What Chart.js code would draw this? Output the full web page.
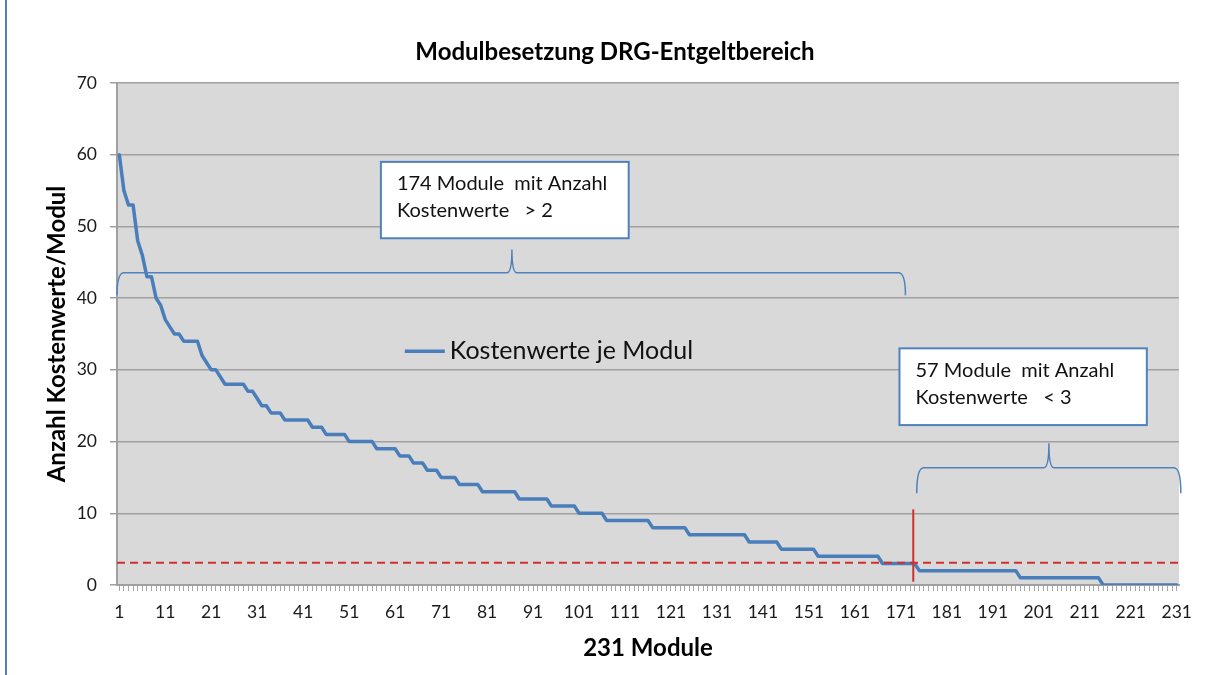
<!DOCTYPE html>
<html>
<head>
<meta charset="utf-8">
<title>Modulbesetzung DRG-Entgeltbereich</title>
<script src="https://cdn.jsdelivr.net/npm/chart.js@4.4.0/dist/chart.umd.min.js"></script>
<style>
  html, body { margin: 0; padding: 0; background: #fff; }
  #wrap { position: relative; width: 1217px; height: 675px; }
  #frame { position: absolute; left: 5px; top: 0; width: 2px; height: 675px; background: #4f81bd; }
</style>
</head>
<body>
<div id="wrap">
  <canvas id="chart" width="1217" height="675"></canvas>
  <div id="frame"></div>
</div>
<script>
// categories: module 1..231
const modules = Array.from({length: 231}, (_, i) => String(i + 1));
const tickLabels = ['1','11','21','31','41','51','61','71','81','91','101','111',
                    '121','131','141','151','161','171','181','191','201','211','221','231'];
const yTicks = [0, 10, 20, 30, 40, 50, 60, 70];

// Anzahl Kostenwerte je Modul
const kostenwerte = [
  60,55,53,53,48,46,43,43,40,39,
  37,36,35,35,34,34,34,34,32,31,
  30,30,29,28,28,28,28,28,27,27,
  26,25,25,24,24,24,23,23,23,23,
  23,23,22,22,22,21,21,21,21,21,
  20,20,20,20,20,20,19,19,19,19,
  19,18,18,18,17,17,17,16,16,16,
  15,15,15,15,14,14,14,14,14,13,
  13,13,13,13,13,13,13,12,12,12,
  12,12,12,12,11,11,11,11,11,11,
  10,10,10,10,10,10,9,9,9,9,
  9,9,9,9,9,9,8,8,8,8,
  8,8,8,8,7,7,7,7,7,7,
  7,7,7,7,7,7,7,6,6,6,
  6,6,6,6,5,5,5,5,5,5,
  5,5,4,4,4,4,4,4,4,4,
  4,4,4,4,4,4,3,3,3,3,
  3,3,3,3,2,2,2,2,2,2,
  2,2,2,2,2,2,2,2,2,2,
  2,2,2,2,2,2,1,1,1,1,
  1,1,1,1,1,1,1,1,1,1,
  1,1,1,1,0,0,0,0,0,0,
  0,0,0,0,0,0,0,0,0,0,
  0
];

const titel = 'Modulbesetzung DRG-Entgeltbereich';

// annotations, in data units (module number, value)
const schwelle = 3.1;
const trennung = { x: 173.7, from: 0.45, to: 10.55 };
const textBoxes = [
  { lines: ['174 Module  mit Anzahl', 'Kostenwerte   > 2'], x0: 57.9, x1: 111.8, y0: 59.0, y1: 48.35 },
  { lines: ['57 Module  mit Anzahl', 'Kostenwerte   < 3'], x0: 170.7, x1: 224.5, y0: 33.0, y1: 22.3 }
];
const braces = [
  { x0: 0.5, x1: 172.0, peak: 86.4, base: 40.4, bar: 43.55, tip: 46.8 },
  { x0: 174.45, x1: 231.9, peak: 203.2, base: 12.8, bar: 16.35, tip: 19.76 }
];
const legendPos = { x: 63.1, y: 32.6 };

const FONT = 'Lato, "Open Sans", sans-serif';
const BLUE = '#4a7ebb';
const FRAME_BLUE = '#4f81bd';
const RED = '#d0302c';

const backgroundPlugin = {
  id: 'bg',
  beforeDraw(chart) {
    const {ctx, chartArea: a} = chart;
    ctx.save();
    ctx.fillStyle = '#fff';
    ctx.fillRect(0, 0, chart.width, chart.height);
    ctx.fillStyle = '#d9d9d9';
    ctx.fillRect(a.left, a.top, a.right - a.left, a.bottom - a.top);
    // title, a bit right of the canvas centre like in the original
    ctx.fillStyle = '#000';
    ctx.font = 'bold 24px ' + FONT;
    ctx.textAlign = 'center';
    ctx.textBaseline = 'middle';
    ctx.fillText(titel, 615, 52);
    ctx.restore();
  }
};

const annotationPlugin = {
  id: 'notes',
  afterDatasetsDraw(chart) {
    const {ctx, chartArea: a} = chart;
    const xs = chart.scales.x, ys = chart.scales.y;
    const px = m => xs.getPixelForValue(m - 1);
    const py = v => ys.getPixelForValue(v);

    ctx.save();
    // red threshold line
    ctx.strokeStyle = RED;
    ctx.lineWidth = 2;
    ctx.setLineDash([8, 5]);
    ctx.beginPath();
    ctx.moveTo(a.left, py(schwelle));
    ctx.lineTo(a.right, py(schwelle));
    ctx.stroke();
    ctx.setLineDash([]);
    ctx.beginPath();
    ctx.moveTo(px(trennung.x), py(trennung.to));
    ctx.lineTo(px(trennung.x), py(trennung.from));
    ctx.stroke();

    // braces
    ctx.strokeStyle = FRAME_BLUE;
    ctx.lineWidth = 1.5;
    braces.forEach(b => {
      const x0 = px(b.x0), x1 = px(b.x1), xp = px(b.peak);
      const yb = py(b.base), yr = py(b.bar), yt = py(b.tip);
      ctx.beginPath();
      ctx.moveTo(x0, yb);
      ctx.quadraticCurveTo(x0, yr, x0 + 7, yr);
      ctx.lineTo(xp - 5, yr);
      ctx.quadraticCurveTo(xp, yr, xp, yt);
      ctx.quadraticCurveTo(xp, yr, xp + 5, yr);
      ctx.lineTo(x1 - 7, yr);
      ctx.quadraticCurveTo(x1, yr, x1, yb);
      ctx.stroke();
    });

    // text boxes
    textBoxes.forEach(t => {
      const l = px(t.x0), r = px(t.x1), top = py(t.y0), bot = py(t.y1);
      ctx.fillStyle = '#fff';
      ctx.fillRect(l, top, r - l, bot - top);
      ctx.strokeStyle = FRAME_BLUE;
      ctx.lineWidth = 2;
      ctx.strokeRect(l, top, r - l, bot - top);
      ctx.fillStyle = '#111';
      ctx.font = '20px ' + FONT;
      ctx.textBaseline = 'middle';
      ctx.textAlign = 'left';
      t.lines.forEach((s, i) => ctx.fillText(s, l + 16, top + 22 + i * 27));
    });

    // legend inside the plot
    const ds = chart.data.datasets[0];
    const lx = px(legendPos.x), ly = py(legendPos.y);
    ctx.strokeStyle = ds.borderColor;
    ctx.lineWidth = 3.5;
    ctx.beginPath();
    ctx.moveTo(lx, ly);
    ctx.lineTo(lx + 40, ly);
    ctx.stroke();
    ctx.fillStyle = '#111';
    ctx.font = '25px ' + FONT;
    ctx.textBaseline = 'middle';
    ctx.fillText(ds.label, lx + 45, ly);
    ctx.restore();
  }
};

new Chart(document.getElementById('chart'), {
  type: 'line',
  data: {
    labels: modules,
    datasets: [{
      label: 'Kostenwerte je Modul',
      data: kostenwerte,
      borderColor: BLUE,
      borderWidth: 3.5,
      pointRadius: 0,
      tension: 0,
      borderJoinStyle: 'round',
      borderCapStyle: 'round'
    }]
  },
  options: {
    responsive: false,
    animation: false,
    layout: { padding: { top: 83, right: 38, bottom: 0, left: 0 } },
    plugins: {
      legend: { display: false },
      tooltip: { enabled: false },
      title: { display: false }
    },
    scales: {
      x: {
        type: 'category',
        offset: true,
        afterFit: s => { s.height = 90; s.paddingLeft = 0; s.paddingRight = 0; },
        grid: { drawOnChartArea: false, drawTicks: true, tickLength: 6, color: '#a6a6a6', lineWidth: 1 },
        border: { display: true, color: '#a0a0a0', width: 2 },
        ticks: {
          autoSkip: false,
          maxRotation: 0,
          minRotation: 0,
          padding: 11,
          color: '#1a1a1a',
          font: { family: FONT, size: 17.5 },
          callback: function (v) {
            const lab = this.getLabelForValue(v);
            return tickLabels.includes(lab) ? lab : '';
          }
        },
        title: {
          display: true,
          text: '231 Module',
          color: '#000',
          font: { family: FONT, size: 24, weight: 'bold' },
          padding: { top: 0, bottom: 12.6 }
        }
      },
      y: {
        min: 0,
        max: 70,
        afterFit: s => { s.width = 117; s.paddingTop = 0; s.paddingBottom = 0; },
        afterBuildTicks: s => { s.ticks = yTicks.map(v => ({ value: v })); },
        grid: { color: '#a0a0a0', lineWidth: 1.5, drawTicks: true, tickLength: 7 },
        border: { display: true, color: '#a0a0a0', width: 2 },
        ticks: {
          padding: 13,
          color: '#1a1a1a',
          font: { family: FONT, size: 17.5 }
        },
        title: {
          display: true,
          text: 'Anzahl Kostenwerte/Modul',
          color: '#000',
          font: { family: FONT, size: 24, weight: 'bold' },
          padding: { top: 42.6, bottom: 0 }
        }
      }
    }
  },
  plugins: [backgroundPlugin, annotationPlugin]
});
</script>
</body>
</html>
